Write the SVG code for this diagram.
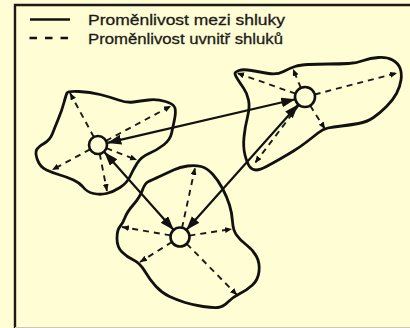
<svg xmlns="http://www.w3.org/2000/svg" width="410" height="328" viewBox="0 0 410 328">
<defs>
<style>
.outline{fill:none;stroke:#111;stroke-width:2.8;stroke-linejoin:round}
.ray{fill:none;stroke:#1a1a1a;stroke-width:1.9;stroke-dasharray:6 5;marker-end:url(#small)}
.link{fill:none;stroke:#111;stroke-width:2.2;marker-start:url(#big);marker-end:url(#big)}
.center{fill:#FFFDD3;stroke:#111;stroke-width:2.6}
.legend{font-family:"Liberation Sans",Arial,sans-serif;font-size:15px;fill:#1a1a1a;stroke:#1a1a1a;stroke-width:0.3}
</style>
<marker id="small" markerUnits="userSpaceOnUse" markerWidth="8" markerHeight="7" refX="7" refY="3" orient="auto"><path d="M0,0 L7,3 L0,6 Z" fill="#111"/></marker>
<marker id="big" markerUnits="userSpaceOnUse" markerWidth="15" markerHeight="11" refX="14" refY="5" orient="auto-start-reverse"><path d="M0,0 L14,5 L0,10 Z" fill="#111"/></marker>
</defs>
<rect width="410" height="328" fill="#FFFDD3"/>
<g id="frame" fill="none" stroke="#1a1a1a" stroke-width="2.4">
<path d="M15,328 L15,5 L410,5"/>
</g>
<line x1="15" y1="327.5" x2="410" y2="327.5" stroke="#c9c9b8" stroke-width="1"/>
<g id="legend">
<line x1="30" y1="19.5" x2="70" y2="19.5" stroke="#111" stroke-width="2.6"/>
<line x1="29.5" y1="38" x2="69" y2="38" stroke="#111" stroke-width="2.6" stroke-dasharray="7.5 8"/>
<text class="legend" x="88" y="24.5" textLength="197" lengthAdjust="spacingAndGlyphs">Proměnlivost mezi shluky</text>
<text class="legend" x="88" y="44" textLength="195" lengthAdjust="spacingAndGlyphs">Proměnlivost uvnitř shluků</text>
</g>
<g id="cluster-left">
<path class="outline" d="M79,91.5 Q90,92 100,94.5 Q110,97 118.5,100 Q127,103 133.5,102 Q140,101 148.5,100 Q157,99 165.5,101.5 Q174,104 175,108 Q176,112 174.5,119.5 Q173,127 171.5,133.5 Q170,140 163.5,145 Q157,150 149,153.5 Q141,157 137,163.5 Q133,170 130,176.5 Q127,183 120,187.5 Q113,192 106.5,193.5 Q100,195 93.5,193.5 Q87,192 83.5,187.5 Q80,183 73.5,180 Q67,177 60,175 Q53,173 46.5,170 Q40,167 37.5,160 Q35,153 36.5,150 Q38,147 44,143.5 Q50,140 52.5,133.5 Q55,127 58.5,118.5 Q62,110 64,102.5 Q66,95 67,93 Q68,91 79,91.5 Z"/>
<line class="ray" x1="93.8" y1="137" x2="70" y2="93"/>
<line class="ray" x1="106" y1="140.8" x2="171" y2="106"/>
<line class="ray" x1="106.4" y1="148.2" x2="137" y2="160"/>
<line class="ray" x1="99.7" y1="153.8" x2="107" y2="191"/>
<line class="ray" x1="90.1" y1="149.3" x2="52" y2="170"/>
</g>
<g id="cluster-middle">
<path class="outline" d="M201,166.5 Q207,168 212.5,174 Q218,180 222.5,188.5 Q227,197 229.5,205 Q232,213 232.5,221.5 Q233,230 236.5,235 Q240,240 246.5,245 Q253,250 256.5,256.5 Q260,263 259,271.5 Q258,280 252.5,285 Q247,290 240,293.5 Q233,297 228,302 Q223,307 218,307.5 Q213,308 203,306.5 Q193,305 185,302.5 Q177,300 169.5,296.5 Q162,293 156,286.5 Q150,280 145,271.5 Q140,263 133.5,260 Q127,257 122,252 Q117,247 117,238.5 Q117,230 120,226.5 Q123,223 125,217.5 Q127,212 133.5,204.5 Q140,197 142.5,190 Q145,183 148.5,181.5 Q152,180 159.5,176.5 Q167,173 173.5,170 Q180,167 187.5,166 Q195,165 201,166.5 Z"/>
<line class="ray" x1="182" y1="228" x2="195" y2="168"/>
<line class="ray" x1="189.4" y1="235.6" x2="232" y2="229"/>
<line class="ray" x1="186.7" y1="243.8" x2="237" y2="295"/>
<line class="ray" x1="172" y1="242" x2="140" y2="262"/>
<line class="ray" x1="170.6" y1="235.4" x2="122" y2="227"/>
</g>
<g id="cluster-right">
<path class="outline" d="M239,70.5 Q243,69 251.5,70.5 Q260,72 268.5,73.5 Q277,75 283.5,71.5 Q290,68 295,66.5 Q300,65 308.5,64.5 Q317,64 328.5,64 Q340,64 348.5,63.5 Q357,63 363.5,60.5 Q370,58 378.5,57.5 Q387,57 392.5,60 Q398,63 400,68 Q402,73 401,80 Q400,87 396.5,93.5 Q393,100 386.5,106.5 Q380,113 373.5,117.5 Q367,122 358.5,123.5 Q350,125 341.5,126 Q333,127 328,128 Q323,129 318,133 Q313,137 306.5,142 Q300,147 293.5,151 Q287,155 280,159 Q273,163 266.5,166.5 Q260,170 256,170 Q252,170 249.5,166.5 Q247,163 245,155 Q243,147 244,137 Q245,127 247.5,117 Q250,107 248.5,100 Q247,93 243.5,88 Q240,83 237.5,79 Q235,75 235,73.5 Q235,72 239,70.5 Z"/>
<line class="ray" x1="295.6" y1="93.7" x2="237" y2="73"/>
<line class="ray" x1="300.9" y1="87.8" x2="293" y2="69"/>
<line class="ray" x1="314.7" y1="94.5" x2="397" y2="73"/>
<line class="ray" x1="310.2" y1="105.6" x2="325" y2="129"/>
<line class="ray" x1="299" y1="105" x2="255" y2="163"/>
</g>
<g id="connectors">
<line class="link" x1="107.3" y1="142.9" x2="295.3" y2="99.3"/>
<line class="link" x1="104.3" y1="152.1" x2="173.7" y2="229.9"/>
<line class="link" x1="186.3" y1="229.9" x2="298.3" y2="104.5"/>
</g>
<g id="centers">
<circle class="center" cx="98" cy="145" r="9"/>
<circle class="center" cx="180" cy="237" r="9.5"/>
<circle class="center" cx="305" cy="97" r="10"/>
</g>
</svg>
